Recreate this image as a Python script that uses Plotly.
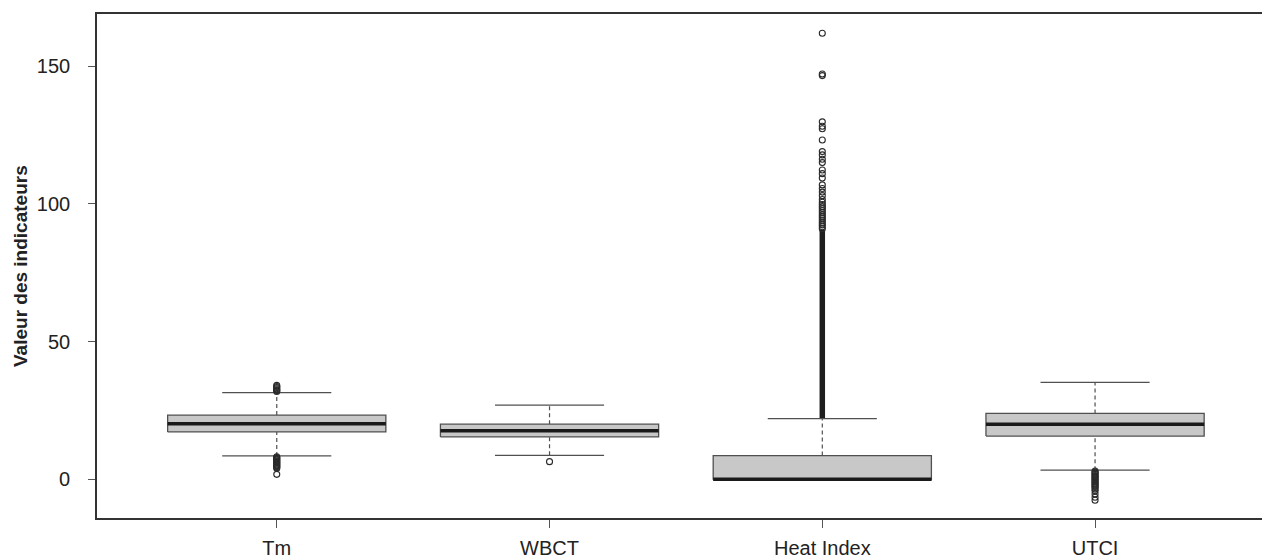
import plotly.graph_objects as go

# ---- data ----
categories = ["Tm", "WBCT", "Heat Index", "UTCI"]
q1 = [17.2, 15.4, -0.2, 15.7]
median = [20.2, 17.6, 0.0, 20.0]
q3 = [23.3, 20.0, 8.6, 23.9]
lower_whisker = [8.5, 8.7, -0.2, 3.3]
upper_whisker = [31.5, 26.9, 22.0, 35.2]

tm_outliers = [31.9, 32.2, 32.5, 32.9, 33.3, 33.7, 34.1,
               8.2, 7.9, 7.6, 7.3, 7.0, 6.7, 6.4, 6.1, 5.8, 5.5, 5.2,
               4.9, 4.6, 4.3, 4.0, 1.8]
wbct_outliers = [6.4]
heat_outliers = [162.0, 147.2, 146.6, 129.8, 128.2, 127.3, 123.2, 119.0,
                 117.8, 116.2, 115.0, 112.3, 111.0, 109.4, 106.9, 105.6,
                 104.3, 103.0, 101.6, 100.6, 99.8, 99.0, 98.3, 97.5, 96.8,
                 96.0, 95.3, 94.6, 93.9, 93.1, 92.4, 91.7, 91.0]
heat_dense_band = [22.3, 90.5]  # continuous run of overlapping outliers
utci_outliers = [3.0, 2.6, 2.2, 1.8, 1.4, 1.0, 0.6, 0.2, -0.2, -0.6,
                 -1.0, -1.4, -1.8, -2.2, -2.6, -3.0, -3.6, -4.2,
                 -5.3, -6.5, -7.6]
outliers = [tm_outliers, wbct_outliers, heat_outliers, utci_outliers]

y_ticks = [0, 50, 100, 150]

# ---- style ----
FONT = "Liberation Sans, Arial, Helvetica, sans-serif"
BOX_HALF = 0.4
CAP_HALF = 0.2
box_fill = "#c8c8c8"
box_line = "#505050"
axis_col = "#333333"

fig = go.Figure()
for i, cat in enumerate(categories):
    c = i + 1
    # whiskers (dashed)
    fig.add_trace(go.Scatter(x=[c, c], y=[q3[i], upper_whisker[i]], mode="lines",
                             line=dict(color=box_line, width=1.2, dash="4px,3px"),
                             hoverinfo="skip", showlegend=False))
    fig.add_trace(go.Scatter(x=[c, c], y=[lower_whisker[i], q1[i]], mode="lines",
                             line=dict(color=box_line, width=1.2, dash="4px,3px"),
                             hoverinfo="skip", showlegend=False))
    # caps
    for v in (upper_whisker[i], lower_whisker[i]):
        fig.add_trace(go.Scatter(x=[c - CAP_HALF, c + CAP_HALF], y=[v, v], mode="lines",
                                 line=dict(color=box_line, width=1.2),
                                 hoverinfo="skip", showlegend=False))
    # box
    fig.add_trace(go.Scatter(
        x=[c - BOX_HALF, c + BOX_HALF, c + BOX_HALF, c - BOX_HALF, c - BOX_HALF],
        y=[q1[i], q1[i], q3[i], q3[i], q1[i]],
        mode="lines", fill="toself", fillcolor=box_fill,
        line=dict(color=box_line, width=1.3),
        hoverinfo="skip", showlegend=False))
    # median
    fig.add_trace(go.Scatter(x=[c - BOX_HALF, c + BOX_HALF], y=[median[i], median[i]],
                             mode="lines", line=dict(color="#1a1a1a", width=3.5),
                             hoverinfo="skip", showlegend=False))

# dense outlier band for Heat Index
fig.add_trace(go.Scatter(x=[3, 3], y=heat_dense_band, mode="lines",
                         line=dict(color="#1e1e1e", width=5.5),
                         hoverinfo="skip", showlegend=False))
# outliers
for i, outs in enumerate(outliers):
    fig.add_trace(go.Scatter(x=[i + 1] * len(outs), y=outs, mode="markers",
                             marker=dict(symbol="circle-open", size=6,
                                         color="#2a2a2a", line=dict(width=1.1)),
                             hoverinfo="skip", showlegend=False))

fig.update_layout(
    width=1262, height=560,
    margin=dict(l=97, r=0, t=14, b=42, autoexpand=False),
    paper_bgcolor="white", plot_bgcolor="white",
    font=dict(family=FONT, size=20, color="#222222"),
    xaxis=dict(range=[0.341, 4.612], tickvals=[1, 2, 3, 4], ticktext=categories,
               showgrid=False, zeroline=False, showline=True, linecolor=axis_col,
               linewidth=1.6, mirror=True, ticks="outside", ticklen=8,
               tickcolor="#555555", tickwidth=1.2, ticklabelstandoff=3,
               automargin=False),
    yaxis=dict(range=[-14.06, 168.97], tickvals=y_ticks,
               showgrid=False, zeroline=False, showline=True, linecolor=axis_col,
               linewidth=1.6, ticks="outside", ticklen=7, tickcolor="#555555",
               tickwidth=1.2, ticklabelstandoff=14, automargin=False),
    annotations=[dict(text="<b>Valeur des indicateurs</b>", textangle=-90,
                      xref="paper", yref="paper", x=0, y=0.5, xanchor="center",
                      yanchor="middle", xshift=-77, showarrow=False,
                      font=dict(family=FONT, size=19, color="#222222"))],
)

fig.write_html("out.html")
